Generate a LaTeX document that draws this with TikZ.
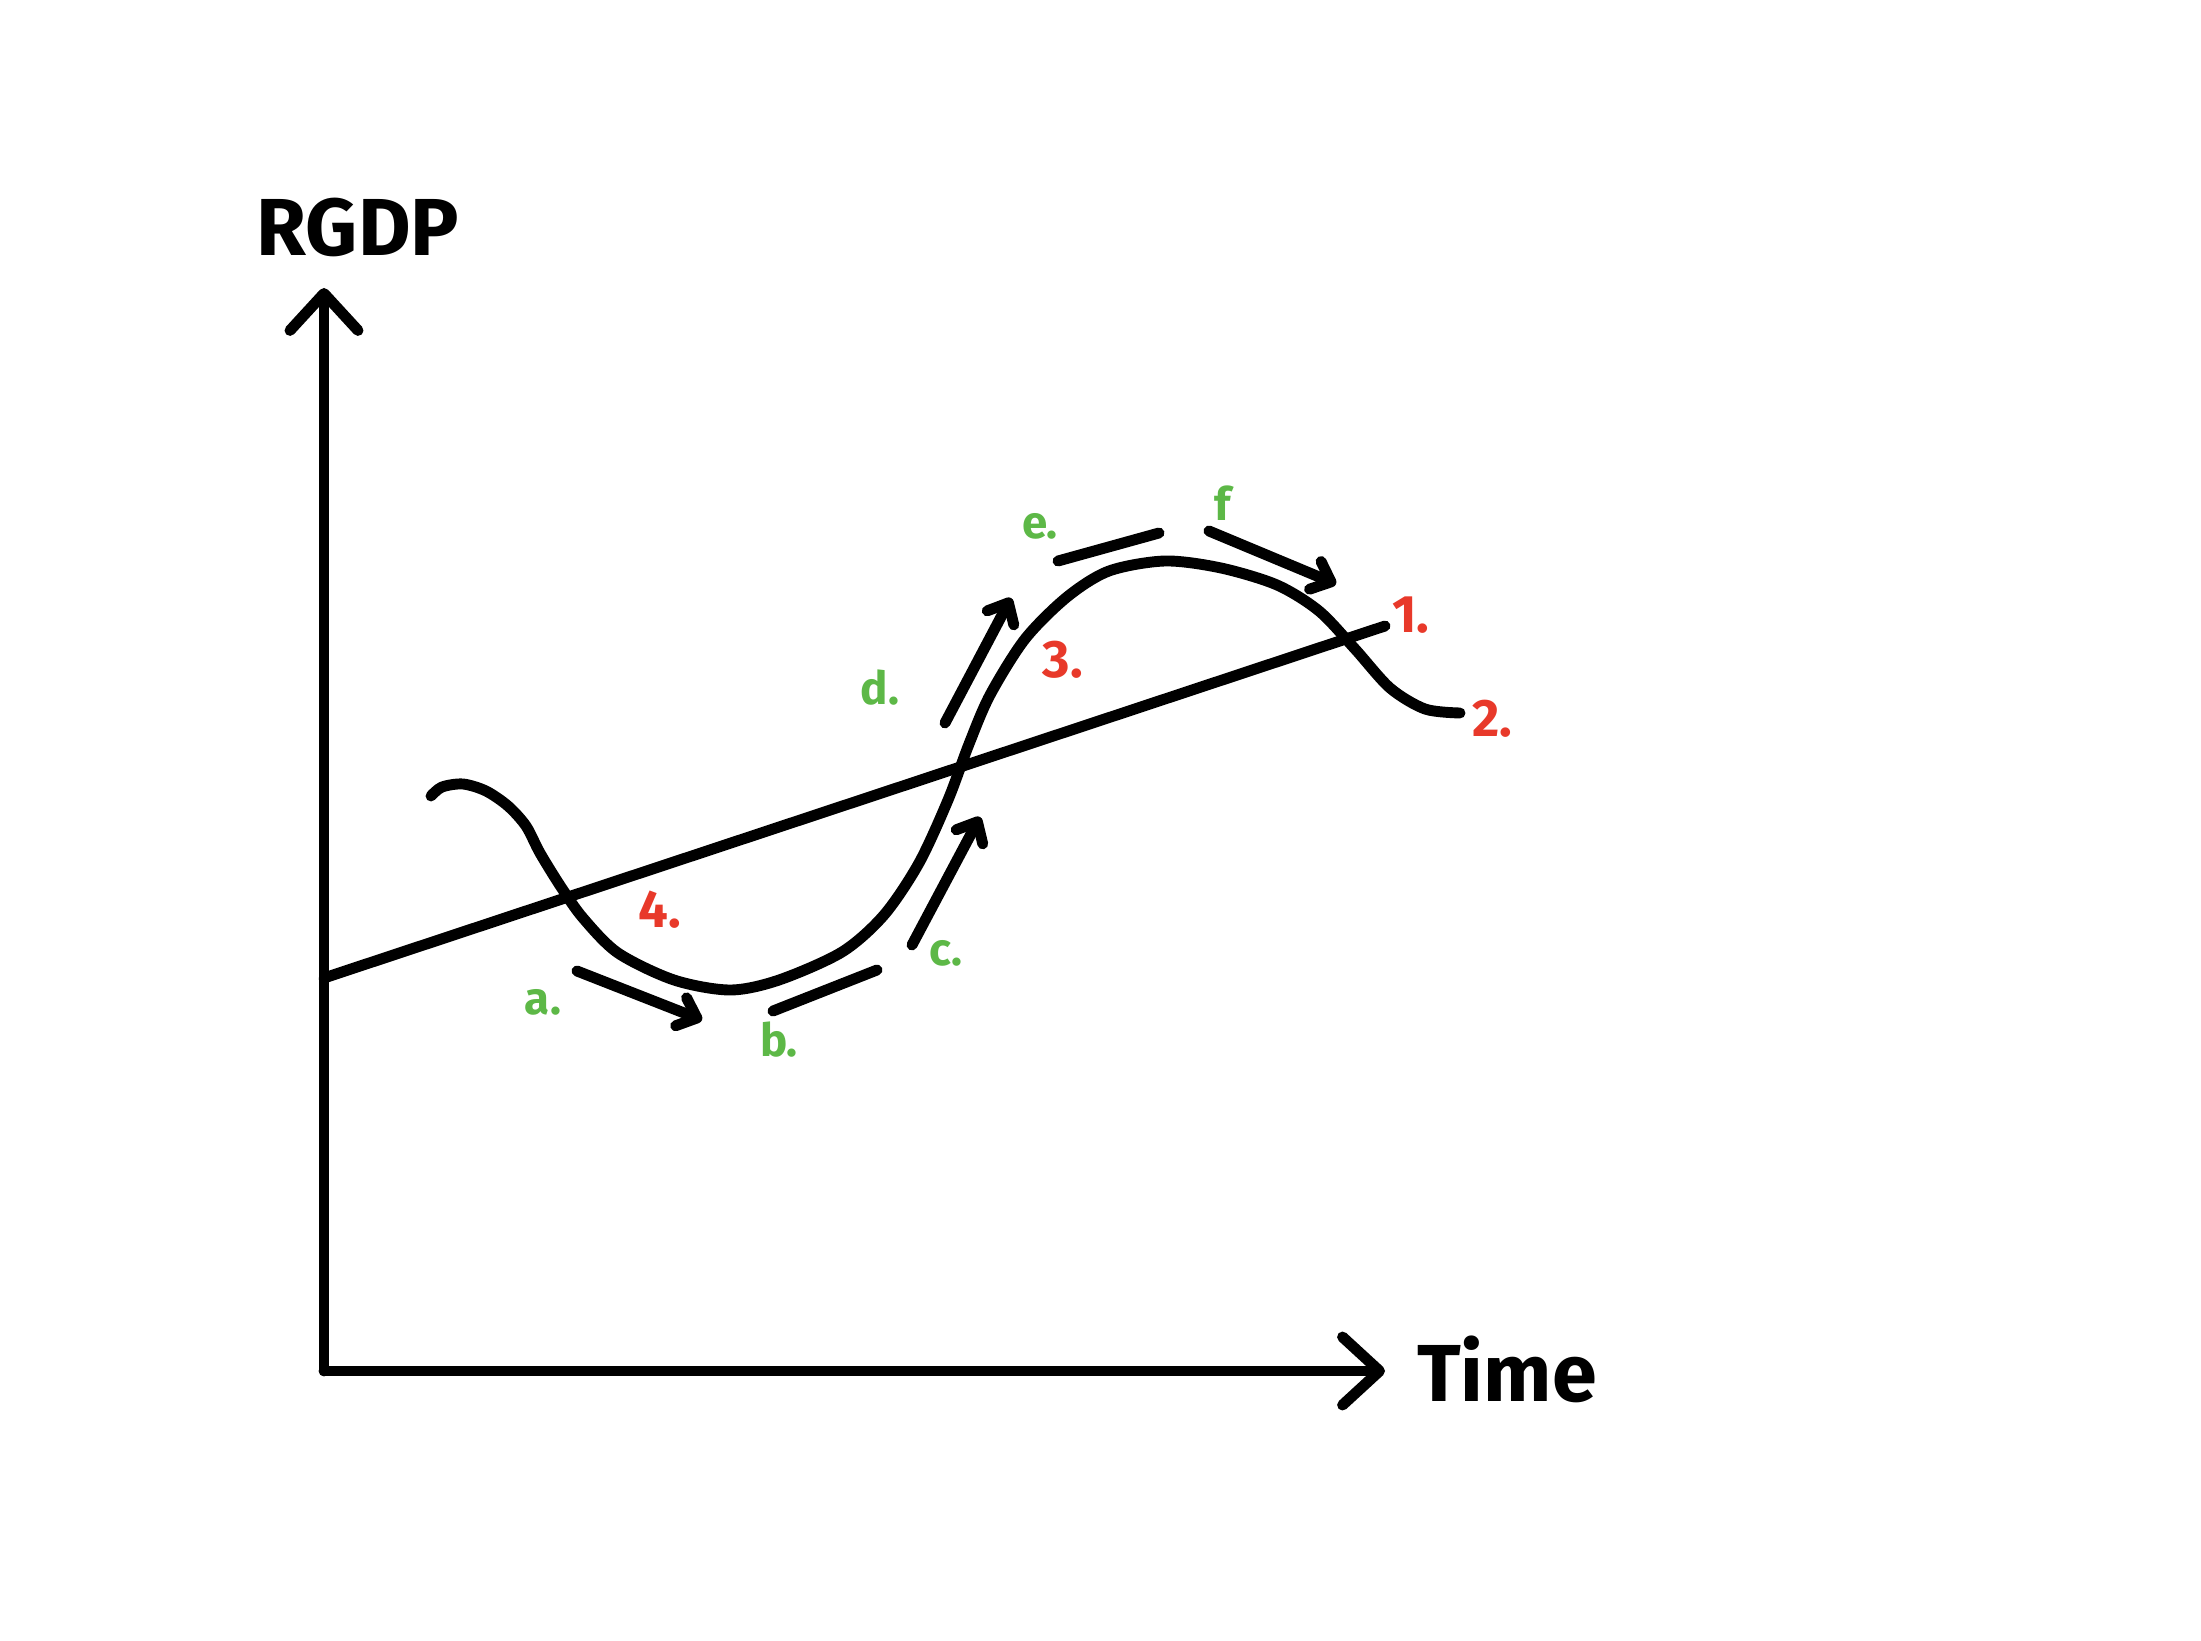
\documentclass[tikz,border=0pt]{standalone}
\usepackage{fontspec}
\setsansfont{Fira Sans}
\usepackage{tikz}
\usetikzlibrary{arrows.meta,positioning}
\definecolor{numred}{HTML}{E8392A}
\definecolor{phasegreen}{HTML}{5DB847}

\begin{document}
\begin{tikzpicture}[x=0.01cm,y=-0.01cm,
  line width=3.1pt, line cap=round, line join=round,
  axis/.style={-{Straight Barb[length=0.37cm,width=0.68cm,round]}},
  move/.style={-{Straight Barb[length=0.17cm,width=0.3cm,round]}},
  num/.style={text=numred,font=\sffamily\bfseries\fontsize{15}{15}\selectfont},
  phase/.style={text=phasegreen,font=\sffamily\bfseries\fontsize{13}{13}\selectfont},
  title/.style={font=\sffamily\bfseries\fontsize{23}{23}\selectfont}]
\useasboundingbox (0,0) rectangle (2201,1640);

\coordinate (O) at (324,1371);
\coordinate (ytop) at (324,288);
\coordinate (xend) at (1385,1371);
\node[title] (rgdp) at (358,227) {RGDP};
\node[title] (time) at (1507,1369) {Time};

\draw[axis] (O) -- (ytop);
\draw[axis] (O) -- (xend);

%trend line
\coordinate (t0) at (324,978);
\coordinate (t1) at (1385,626);
\draw (t0) -- (t1);

%business cycle
\draw plot[smooth,tension=0.5] coordinates {(431,796) (442,787) (463,784) (486,791)
  (508,806) (526,826) (540,853) (561,887) (583,918) (618,953) (674,980) (730,990)
  (779,980) (842,952) (884,915) (919,863) (948,800) (969,744) (990,695) (1025,639)
  (1067,597) (1109,571) (1165,561) (1221,568) (1277,585) (1319,611) (1355,649)
  (1390,688) (1425,709) (1460,713)};

%phases
\coordinate (a0) at (577,971);  \coordinate (a1) at (702,1020);
\coordinate (b0) at (773,1011); \coordinate (b1) at (877,970);
\coordinate (c0) at (912,945);  \coordinate (c1) at (980,817);
\coordinate (d0) at (945,723);  \coordinate (d1) at (1011,598);
\coordinate (e0) at (1058,561); \coordinate (e1) at (1159,533);
\coordinate (f0) at (1209,531); \coordinate (f1) at (1336,584);
\draw[move] (a0) -- (a1);
\draw (b0) -- (b1);
\draw[move] (c0) -- (c1);
\draw[move] (d0) -- (d1);
\draw (e0) -- (e1);
\draw[move] (f0) -- (f1);

\node[phase] (la) at (543,1002) {a.};
\node[phase] (lb) at (779,1040) {b.};
\node[phase] (lc) at (946,953) {c.};
\node[phase] (ld) at (880,688) {d.};
\node[phase] (le) at (1040,526) {e.};
\node[phase] (lf) at (1223,503) {f};

\node[num] (n1) at (1411,615) {1.};
\node[num] (n2) at (1492,719) {2.};
\node[num] (n3) at (1063,660) {3.};
\node[num] (n4) at (660,910) {4.};
\end{tikzpicture}
\end{document}
